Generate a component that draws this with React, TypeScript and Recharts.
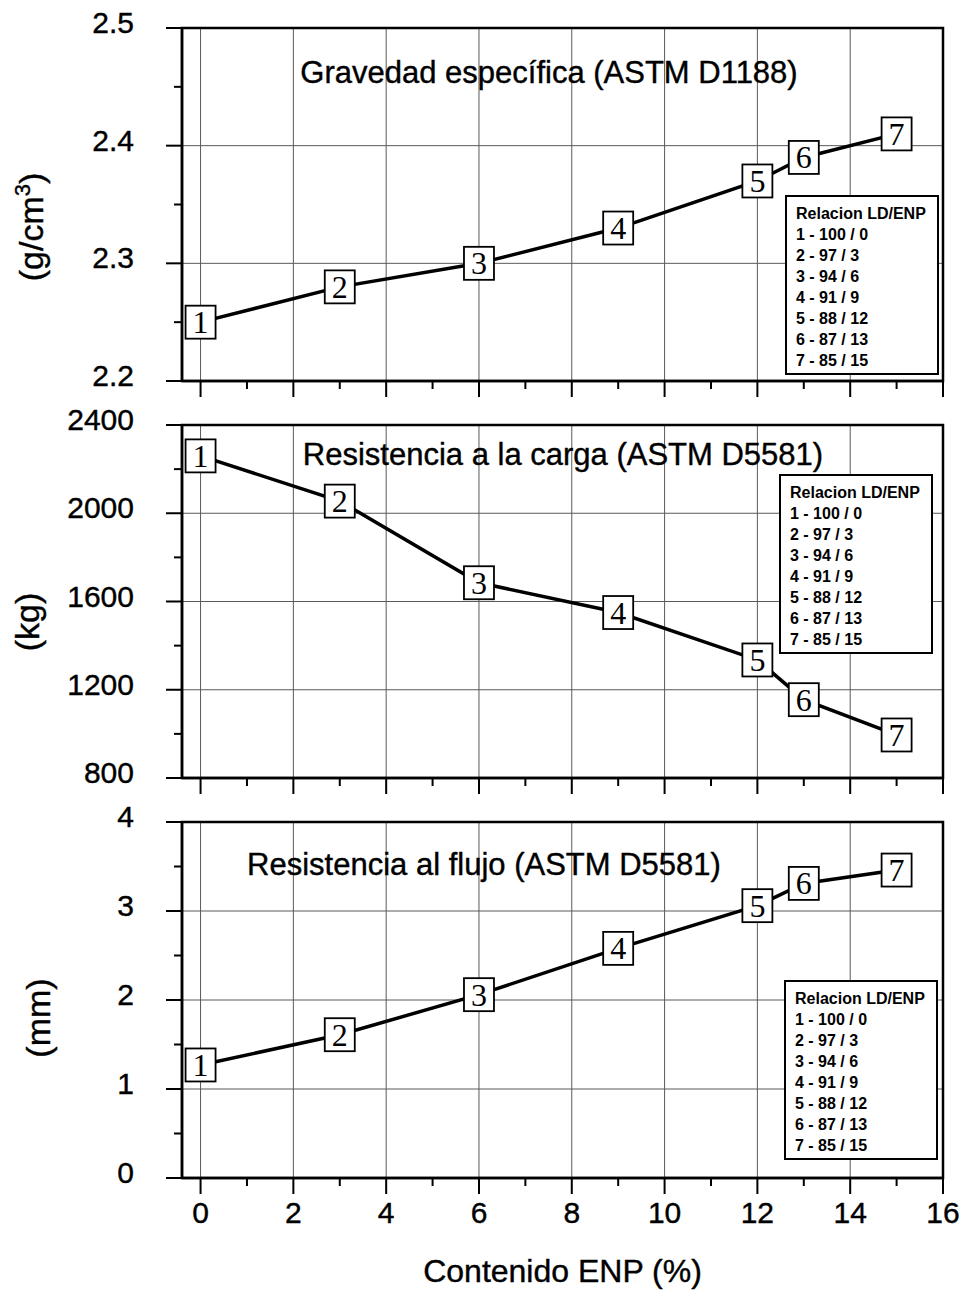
import React from "react";
import {
  LineChart,
  Line,
  XAxis,
  YAxis,
  CartesianGrid,
  ReferenceArea,
} from "recharts";

// ENP content (%) for each sample, and the sample number shown in its box
const enpContent = [0, 3, 6, 9, 12, 13, 15];
const sampleIds = [1, 2, 3, 4, 5, 6, 7];

// measured values per sample
const gravity = [2.25, 2.28, 2.3, 2.33, 2.37, 2.39, 2.41];
const loadKg = [2260, 2055, 1685, 1550, 1335, 1155, 995];
const flowMm = [1.27, 1.61, 2.06, 2.58, 3.06, 3.31, 3.46];

const legendRows = [
  "Relacion LD/ENP",
  "1 - 100 / 0",
  "2 - 97 / 3",
  "3 - 94 / 6",
  "4 - 91 / 9",
  "5 - 88 / 12",
  "6 - 87 / 13",
  "7 - 85 / 15",
];

const xTicks = [0, 1, 2, 3, 4, 5, 6, 7, 8, 9, 10, 11, 12, 13, 14, 15, 16];
const xGrid = [0, 2, 4, 6, 8, 10, 12, 14, 16];
const xTickLabels = ["0", "2", "4", "6", "8", "10", "12", "14", "16"];

const gravityTicks = [2.2, 2.25, 2.3, 2.35, 2.4, 2.45, 2.5];
const gravityMajor = [2.2, 2.3, 2.4, 2.5];
const loadTicks = [800, 1000, 1200, 1400, 1600, 1800, 2000, 2200, 2400];
const loadMajor = [800, 1200, 1600, 2000, 2400];
const flowTicks = [0, 0.5, 1, 1.5, 2, 2.5, 3, 3.5, 4];
const flowMajor = [0, 1, 2, 3, 4];

const build = (vals: number[]) =>
  enpContent.map((x, i) => ({ x, id: sampleIds[i], v: vals[i] }));

const FONT = '"Liberation Sans", Arial, Helvetica, sans-serif';
const SERIF = '"Liberation Serif", "Times New Roman", serif';

const isIn = (v: number, list: number[]) =>
  list.some((m) => Math.abs(m - v) < 1e-9);

// scanned original has slightly heavy type
const heavy = { stroke: "#000", strokeWidth: 0.4 };

const YTick = (props: any) => {
  const { x, y, payload, majors, fmt } = props;
  const major = isIn(payload.value, majors);
  return (
    <g>
      <line
        x1={x - (major ? 16 : 8)}
        x2={x}
        y1={y}
        y2={y}
        stroke="#000"
        strokeWidth={2}
      />
      {major && (
        <text
          x={x - 48}
          y={y + 5}
          textAnchor="end"
          fontSize={30}
          fontFamily={FONT}
          fill="#000"
          {...heavy}
        >
          {fmt(payload.value)}
        </text>
      )}
    </g>
  );
};

const XTick = (props: any) => {
  const { x, y, payload, showLabel } = props;
  const idx = xGrid.indexOf(payload.value);
  const major = idx >= 0;
  return (
    <g>
      <line
        x1={x}
        x2={x}
        y1={y}
        y2={y + (major ? 16 : 8)}
        stroke="#000"
        strokeWidth={2}
      />
      {showLabel && major && (
        <text
          x={x}
          y={y + 45}
          textAnchor="middle"
          fontSize={30}
          fontFamily={FONT}
          fill="#000"
          {...heavy}
        >
          {xTickLabels[idx]}
        </text>
      )}
    </g>
  );
};

const BoxDot = (props: any) => {
  const { cx, cy, payload, index } = props;
  if (cx == null || cy == null) return <g key={index} />;
  return (
    <g key={index}>
      <rect
        x={cx - 15}
        y={cy - 16.5}
        width={30}
        height={33}
        fill="#fff"
        stroke="#000"
        strokeWidth={1.8}
      />
      <text
        x={cx}
        y={cy + 11}
        textAnchor="middle"
        fontSize={32}
        fontFamily={SERIF}
        fill="#000"
      >
        {payload.id}
      </text>
    </g>
  );
};

const YTitle = (props: any) => {
  const { bx, cy, children } = props;
  return (
    <text
      x={bx}
      y={cy}
      transform={`rotate(-90, ${bx}, ${cy})`}
      textAnchor="middle"
      fontSize={34}
      fontFamily={FONT}
      fill="#000"
      {...heavy}
    >
      {children}
    </text>
  );
};

interface PanelProps {
  top: number;
  height: number;
  marginTop: number;
  xAxisHeight: number;
  data: { x: number; id: number; v: number }[];
  domain: [number, number];
  ticks: number[];
  majors: number[];
  fmt: (v: number) => string;
  showXLabels?: boolean;
  yTitle: React.ReactElement;
}

const Panel: React.FC<PanelProps> = ({
  top,
  height,
  marginTop,
  xAxisHeight,
  data,
  domain,
  ticks,
  majors,
  fmt,
  showXLabels = false,
  yTitle,
}) => (
  <div style={{ position: "absolute", left: 0, top, width: 968, height }}>
    <LineChart
      width={968}
      height={height}
      data={data}
      margin={{ top: marginTop, right: 25, bottom: 0, left: 0 }}
    >
      <CartesianGrid
        stroke="#5a5a5a"
        strokeWidth={1}
        verticalValues={xGrid}
        horizontalValues={majors}
      />
      <XAxis
        dataKey="x"
        type="number"
        domain={[-0.4, 16]}
        ticks={xTicks}
        interval={0}
        height={xAxisHeight}
        tickSize={0}
        tickMargin={0}
        tickLine={false}
        axisLine={{ stroke: "#000", strokeWidth: 2.5 }}
        tick={(p: any) => <XTick {...p} showLabel={showXLabels} />}
        label={
          showXLabels
            ? {
                value: "Contenido ENP (%)",
                position: "insideBottom",
                offset: 8,
                fontSize: 32,
                fill: "#000",
                stroke: "#000",
                strokeWidth: 0.4,
              }
            : undefined
        }
      />
      <YAxis
        type="number"
        domain={domain}
        ticks={ticks}
        interval={0}
        width={182}
        tickSize={0}
        tickMargin={0}
        tickLine={false}
        axisLine={{ stroke: "#000", strokeWidth: 2.5 }}
        tick={(p: any) => <YTick {...p} majors={majors} fmt={fmt} />}
        label={yTitle}
      />
      <ReferenceArea
        x1={-0.4}
        x2={16}
        y1={domain[0]}
        y2={domain[1]}
        fill="none"
        stroke="#000"
        strokeWidth={2.5}
      />
      <Line
        type="linear"
        dataKey="v"
        stroke="#000"
        strokeWidth={3.5}
        dot={BoxDot}
        activeDot={false}
        isAnimationActive={false}
      />
    </LineChart>
  </div>
);

const Legend: React.FC<{ left: number; top: number }> = ({ left, top }) => (
  <div
    style={{
      position: "absolute",
      left,
      top,
      width: 141,
      height: 170,
      border: "2px solid #000",
      background: "#fff",
      padding: "6px 0 0 9px",
      boxSizing: "content-box",
      fontFamily: FONT,
      fontWeight: "bold",
      fontSize: 16,
      lineHeight: "21px",
      whiteSpace: "pre",
      color: "#000",
    }}
  >
    {legendRows.map((r) => (
      <div key={r}>{r}</div>
    ))}
  </div>
);

const Title: React.FC<{ cx: number; capY: number; text: string }> = ({
  cx,
  capY,
  text,
}) => (
  <div
    style={{
      position: "absolute",
      left: cx,
      top: capY - 15,
      transform: "translateX(-50%)",
      fontFamily: FONT,
      fontSize: 31,
      lineHeight: "31px",
      whiteSpace: "nowrap",
      color: "#000",
      WebkitTextStroke: "0.4px #000",
    }}
  >
    {text}
  </div>
);

export default function App() {
  return (
    <div
      style={{
        position: "absolute",
        left: 0,
        top: 0,
        width: 968,
        height: 1290,
        background: "#fff",
        fontFamily: FONT,
      }}
    >
      <Panel
        top={0}
        height={400}
        marginTop={28}
        xAxisHeight={19}
        data={build(gravity)}
        domain={[2.2, 2.5]}
        ticks={gravityTicks}
        majors={gravityMajor}
        fmt={(v) => v.toFixed(1)}
        yTitle={
          <YTitle bx={43} cy={227}>
            (g/cm
            <tspan dy={-13} fontSize={22}>
              3
            </tspan>
            <tspan dy={13}>)</tspan>
          </YTitle>
        }
      />
      <Panel
        top={400}
        height={400}
        marginTop={25}
        xAxisHeight={22}
        data={build(loadKg)}
        domain={[800, 2400]}
        ticks={loadTicks}
        majors={loadMajor}
        fmt={(v) => String(v)}
        yTitle={
          <YTitle bx={39} cy={222}>
            (kg)
          </YTitle>
        }
      />
      <Panel
        top={800}
        height={490}
        marginTop={22}
        xAxisHeight={112}
        data={build(flowMm)}
        domain={[0, 4]}
        ticks={flowTicks}
        majors={flowMajor}
        fmt={(v) => String(v)}
        showXLabels
        yTitle={
          <YTitle bx={50} cy={218}>
            (mm)
          </YTitle>
        }
      />
      <Title cx={549} capY={72} text="Gravedad específica (ASTM D1188)" />
      <Title cx={563} capY={454} text="Resistencia a la carga (ASTM D5581)" />
      <Title cx={484} capY={864} text="Resistencia al flujo (ASTM D5581)" />
      <Legend left={785} top={195} />
      <Legend left={779} top={474} />
      <Legend left={784} top={980} />
    </div>
  );
}
